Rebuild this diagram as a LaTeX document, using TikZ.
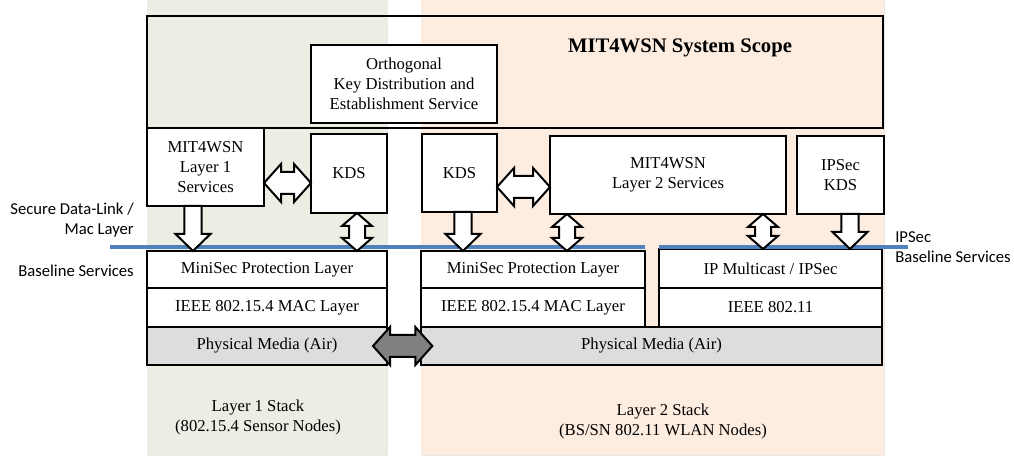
\documentclass[tikz,border=0pt]{standalone}
\usepackage{fontspec}
\setmainfont{Liberation Serif}
\newfontfamily\sidefont{Carlito}
\usetikzlibrary{calc,shadows}

\definecolor{stackone}{RGB}{237,237,228}
\definecolor{stacktwo}{RGB}{253,236,224}
\definecolor{airgray}{RGB}{221,221,221}
\definecolor{linkgray}{RGB}{128,128,128}
\definecolor{sepblue}{RGB}{79,129,189}

\tikzset{
  box/.style={draw=black, line width=1.5pt, fill=white, inner sep=0pt, outer sep=0pt,
    anchor=north west, align=center, font=\fontsize{12.5}{15}\selectfont},
  air/.style={box, fill=airgray},
  % size of a box in pixels of the 1014 x 459 canvas
  size/.style 2 args={minimum width=#1*0.75pt, minimum height=#2*0.75pt},
  layerline/.style={draw=black, line width=1.5pt},
  blockarrow/.style={draw, line width=1.5pt, fill=white, line join=miter},
  sepline/.style={sepblue, line width=2.4pt},
  sidelabel/.style={font=\sidefont\fontsize{12.5}{14.5}\selectfont, inner sep=0pt},
  stacklabel/.style={font=\fontsize{12.5}{15}\selectfont, align=center},
  panel/.style={drop shadow={opacity=0.18, shadow xshift=1pt, shadow yshift=-1pt}},
}

% hollow block arrows, end points taken from the boxes
\newcommand{\blkdown}[2]{%
  \draw[blockarrow] let \p1=#1, \p2=#2 in
    (\x1-6.4pt,\y1) -- (\x1+6.4pt,\y1) -- (\x1+6.4pt,\y2+12.75pt) -- (\x1+13.1pt,\y2+12.75pt)
    -- (\x1,\y2) -- (\x1-13.1pt,\y2+12.75pt) -- (\x1-6.4pt,\y2+12.75pt) -- cycle;}
\newcommand{\blkupdown}[2]{%
  \draw[blockarrow] let \p1=#1, \p2=#2 in
    (\x1,\y1) -- (\x1+11.25pt,\y1-9.75pt) -- (\x1+6pt,\y1-9.75pt) -- (\x1+6pt,\y2+9.75pt)
    -- (\x1+11.25pt,\y2+9.75pt) -- (\x1,\y2) -- (\x1-11.25pt,\y2+9.75pt) -- (\x1-6pt,\y2+9.75pt)
    -- (\x1-6pt,\y1-9.75pt) -- (\x1-11.25pt,\y1-9.75pt) -- cycle;}
\newcommand{\blkleftright}[3][]{%
  \draw[blockarrow,#1] let \p1=#2, \p2=#3 in
    (\x1,\y1) -- (\x1+12.75pt,\y1+14.25pt) -- (\x1+12.75pt,\y1+8.25pt) -- (\x2-12.75pt,\y1+8.25pt)
    -- (\x2-12.75pt,\y1+14.25pt) -- (\x2,\y1) -- (\x2-12.75pt,\y1-14.25pt) -- (\x2-12.75pt,\y1-8.25pt)
    -- (\x1+12.75pt,\y1-8.25pt) -- (\x1+12.75pt,\y1-14.25pt) -- cycle;}

\begin{document}
\begin{tikzpicture}[x=0.75pt, y=-0.75pt]
  \useasboundingbox (0,0) rectangle (1014,459);

  % the two node stacks behind everything
  \fill[stackone, panel] (147,0) rectangle (387,455);
  \fill[stacktwo, panel] (421,0) rectangle (884,455);

  % stack captions
  \node[stacklabel] (cap1) at (258,417) {Layer 1 Stack\\(802.15.4 Sensor Nodes)};
  \node[stacklabel] (cap2) at (663,421) {Layer 2 Stack\\(BS/SN 802.11 WLAN Nodes)};

  % system scope frame
  \draw[layerline] (147,16) rectangle (883,128);
  \node[font=\bfseries\fontsize{15.5}{18}\selectfont] (title) at (680,48) {MIT4WSN System Scope};
  \node[box, size={186}{78}] (okds) at (311,45) {Orthogonal\\Key Distribution and\\Establishment Service};

  % services
  \node[box, size={117}{78}] (l1svc) at (147,128) {MIT4WSN\\Layer 1\\Services};
  \node[box, size={76}{79}] (kds1) at (311,134) {KDS};
  \node[box, size={75}{78}] (kds2) at (422,134) {KDS};
  \node[box, size={236}{78}] (l2svc) at (550,136) {MIT4WSN\\Layer 2 Services};
  \node[box, size={87}{78}] (ipkds) at (797,136) {IPSec\\KDS};

  % layer 1 stack
  \node[box, size={240}{37}] (mini1) at (147,251) {MiniSec Protection Layer};
  \node[box, size={240}{39}] (mac1) at (147,288) {IEEE 802.15.4 MAC Layer};
  \node[air, size={240}{38}] (phy1) at (147,327) {Physical Media (Air)};

  % layer 2 stack
  \node[box, size={224}{37}] (mini2) at (421,251) {MiniSec Protection Layer};
  \node[box, size={224}{39}] (mac2) at (421,288) {IEEE 802.15.4 MAC Layer};
  \node[box, size={223}{39}] (ipsec) at (659,249) {IP Multicast / IPSec};
  \node[box, size={223}{39}] (wlan) at (659,288) {IEEE 802.11};
  \node[air, size={461}{38}] (phy2) at (421,327) {Physical Media (Air)};

  % outlines of the stacked layers
  \foreach \layer in {mini1,mac1,phy1,mini2,mac2,ipsec,wlan,phy2}
    \draw[layerline] (\layer.north west) rectangle (\layer.south east);

  % service boundary lines
  \draw[sepline] (110,247) -- (645,247);
  \draw[sepline] (659,247) -- (908,247);

  % block arrows
  \blkleftright{(l1svc.east |- 0,183)}{(kds1.west |- 0,183)}
  \blkleftright{(kds2.east |- 0,187)}{(l2svc.west |- 0,187)}
  \blkleftright[fill=linkgray]{([xshift=-10.5pt]phy1.east)}{([xshift=8.5pt]phy2.west)}
  \blkdown{(193,0 |- l1svc.south)}{(193,0 |- mini1.north)}
  \blkupdown{(357,0 |- kds1.south)}{(357,0 |- mini1.north)}
  \blkdown{(463,0 |- kds2.south)}{(463,0 |- mini2.north)}
  \blkupdown{(567,0 |- l2svc.south)}{(567,0 |- mini2.north)}
  \blkupdown{(763,0 |- l2svc.south)}{(763,0 |- ipsec.north)}
  \blkdown{(850,0 |- ipkds.south)}{(850,0 |- ipsec.north)}

  % side labels
  \node[sidelabel, anchor=east, align=right] (slink) at (134,220) {Secure Data-Link /\\Mac Layer};
  \node[sidelabel, anchor=east] (sbase) at (134,271) {Baseline Services};
  \node[sidelabel, anchor=west, align=left] (sipsec) at (895,247) {IPSec\\Baseline Services};
\end{tikzpicture}
\end{document}
